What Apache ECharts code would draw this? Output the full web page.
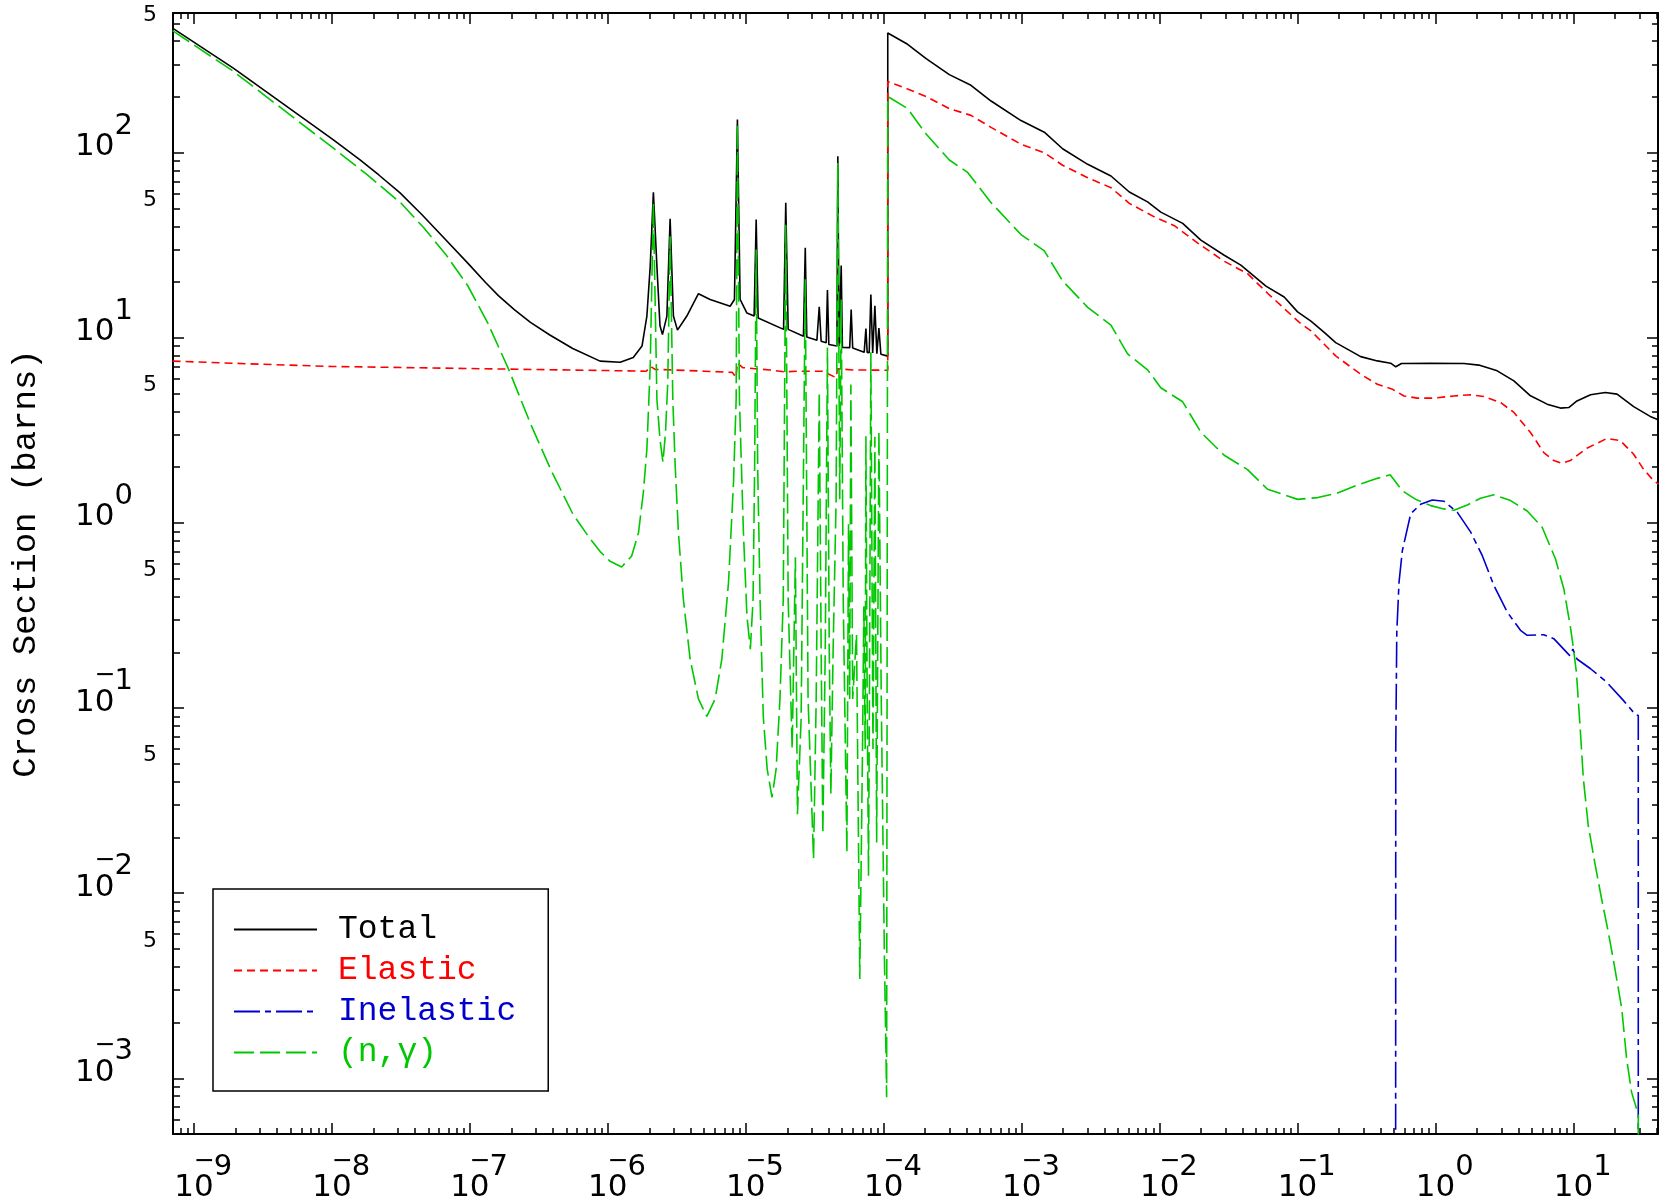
<!DOCTYPE html>
<html>
<head>
<meta charset="utf-8">
<script src="https://cdn.jsdelivr.net/npm/echarts@6/dist/echarts.min.js"></script>
<style>
html,body{margin:0;padding:0;background:#fff;}
#chart{width:1663px;height:1199px;}
</style>
</head>
<body>
<div id="chart"></div>
<script>
// ---------------- data (energy in MeV, cross section in barns) ----------------
const xLimits = [7.05e-10, 41];
const yLimits = [5e-4, 568];
const xDecadeExponents = [-9, -8, -7, -6, -5, -4, -3, -2, -1, 0, 1];
const yDecadeExponents = [-3, -2, -1, 0, 1, 2];
const yFiveLabelValues = [5e-3, 5e-2, 0.5, 5, 50, 500];
const seriesNames = ['Total', 'Elastic', 'Inelastic', '(n,\u03b3)'];

const totalE = [7.0e-10, 1.93e-9, 1.02e-8, 1.6e-8, 2.2e-8, 3.12e-8, 4.5e-8, 6.5e-8, 9.66e-8, 1.3e-7,
  1.61e-7, 2.1e-7, 2.75e-7, 3.8e-7, 5.57e-7, 8.79e-7, 1.23e-6,
  1.53e-6, 1.77e-6, 1.92e-6, 2.03e-6, 2.14e-6, 2.27e-6, 2.39e-6, 2.49e-6, 2.68e-6, 2.83e-6,
  2.99e-6, 3.20e-6, 3.74e-6, 4.54e-6, 5.52e-6, 7.71e-6, 8.28e-6, 8.70e-6, 9.10e-6, 1.02e-5,
  1.15e-5, 1.19e-5, 1.23e-5, 1.88e-5, 1.95e-5, 2.03e-5, 2.62e-5, 2.70e-5, 2.77e-5, 3.28e-5,
  3.41e-5, 3.52e-5, 3.83e-5, 3.91e-5, 4.00e-5, 4.58e-5, 4.65e-5, 4.75e-5, 4.92e-5, 5.02e-5,
  5.67e-5, 5.81e-5, 5.96e-5, 7.22e-5, 7.43e-5, 7.59e-5, 7.85e-5, 8.07e-5, 8.32e-5, 8.63e-5,
  8.92e-5, 9.23e-5, 9.54e-5, 1.07e-4, 1.07e-4, 1.49e-4, 2.03e-4, 2.99e-4, 4.29e-4, 6.0e-4,
  9.89e-4, 1.46e-3, 1.98e-3, 3.01e-3, 4.44e-3, 6.03e-3, 8.18e-3, 1.02e-2, 1.47e-2, 1.99e-2,
  2.94e-2, 3.88e-2, 5.9e-2, 8.0e-2, 0.1, 0.125, 0.156, 0.189, 0.287, 0.379,
  0.473, 0.515, 0.566, 0.923, 1.61, 2.06, 2.80, 3.70, 4.88, 6.44,
  8.04, 9.24, 10.6, 13.3, 17.0, 20.7, 27.3, 36.0, 41.5];
const totalS = [471, 286, 117.5, 91.4, 75.5, 60.6, 46.2, 34.6, 25.3, 19.9,
  16.9, 14.2, 12.1, 10.35, 8.75, 7.48, 7.38,
  7.83, 9.02, 13.1, 24.3, 61.1, 24.3, 11.6, 10.4, 13.1, 43.9,
  13.1, 11.0, 13.1, 17.3, 16.1, 14.8, 16.1, 151, 16.1, 13.6,
  13.1, 43.5, 12.8, 11.1, 53.6, 11.1, 10.2, 30.6, 10.1, 9.71,
  14.7, 9.59, 9.40, 18.1, 9.20, 9.02, 95.5, 9.02, 24.6, 8.87,
  8.85, 14.2, 8.80, 8.34, 11.2, 8.34, 8.30, 17.1, 8.27, 14.9,
  8.20, 11.3, 8.15, 7.96, 443, 385, 322, 264, 231, 190,
  149, 129, 105, 86.5, 74.8, 61.3, 54.2, 47.7, 41.5, 33.7,
  27.9, 24.7, 19.0, 16.6, 13.8, 12.3, 10.7, 9.42, 7.91, 7.50,
  7.29, 6.97, 7.26, 7.29, 7.26, 7.12, 6.63, 5.85, 4.86, 4.38,
  4.17, 4.20, 4.56, 4.92, 5.06, 4.96, 4.25, 3.76, 3.6];

const elasticE = [7.0e-10, 3e-9, 1e-8, 1e-7, 1e-6, 1.9e-6, 2.05e-6, 2.2e-6, 3e-6, 5e-6,
  8.0e-6, 8.5e-6, 8.7e-6, 9.5e-6, 1.5e-5, 1.9e-5, 2.5e-5, 3.6e-5, 4.5e-5, 4.65e-5,
  6e-5, 1.07e-4, 1.07e-4, 1.49e-4, 2.03e-4, 2.99e-4, 4.29e-4, 6.0e-4, 9.89e-4, 1.46e-3,
  1.98e-3, 3.01e-3, 4.44e-3, 6.03e-3, 9.15e-3, 1.28e-2, 1.99e-2, 2.94e-2, 4.34e-2, 6.06e-2,
  0.103, 0.125, 0.156, 0.189, 0.287, 0.379, 0.487, 0.591, 0.738, 0.975,
  1.36, 1.80, 2.24, 2.96, 3.70, 4.88, 6.09, 7.20, 8.27, 9.50,
  12.5, 17.5, 21.9, 27.3, 32.2, 38.1, 41.5];
const elasticS = [7.48, 7.2, 7.0, 6.82, 6.65, 6.6, 7.0, 6.75, 6.7, 6.6,
  6.5, 6.1, 7.3, 6.9, 6.7, 6.55, 6.6, 6.6, 6.1, 6.8,
  6.7, 6.68, 242, 221, 201, 173, 159, 137, 111, 99.8,
  85.5, 73.2, 64.7, 53.2, 45.0, 40.3, 31.6, 25.9, 22.2, 17.4,
  12.1, 10.9, 9.23, 7.98, 6.35, 5.61, 5.27, 4.85, 4.72, 4.72,
  4.85, 4.92, 4.82, 4.47, 3.95, 3.08, 2.40, 2.17, 2.10, 2.17,
  2.53, 2.86, 2.78, 2.35, 1.95, 1.69, 1.62];

const inelasticE = [0.513, 0.515, 0.524, 0.544, 0.575, 0.661, 0.780, 0.948, 1.15, 1.44,
  1.80, 2.18, 2.65, 3.31, 4.13, 4.62, 6.09, 7.20, 9.40, 9.90,
  10.6, 13.3, 17.4, 23.0, 28.1, 29.5, 29.5];
const inelasticS = [1e-6, 0.0605, 0.257, 0.479, 0.709, 1.12, 1.26, 1.33, 1.31, 1.14,
  0.891, 0.667, 0.459, 0.330, 0.263, 0.247, 0.249, 0.237, 0.192, 0.208,
  0.184, 0.163, 0.138, 0.110, 0.0922, 0.091, 1e-6];

const captureE = [7.0e-10, 1.93e-9, 1.02e-8, 1.8e-8, 3.2e-8, 4.6e-8, 6.67e-8, 9.66e-8, 1.35e-7, 1.93e-7, 2.75e-7, 3.91e-7,
  5.57e-7, 7.27e-7, 8.8e-7, 1.04e-6, 1.26e-6, 1.49e-6, 1.67e-6, 1.81e-6, 1.92e-6, 2.03e-6,
  2.14e-6, 2.27e-6, 2.39e-6, 2.51e-6, 2.62e-6, 2.72e-6, 2.83e-6, 2.96e-6, 3.08e-6, 3.25e-6,
  3.53e-6, 3.95e-6, 4.54e-6, 5.22e-6, 6.0e-6, 6.71e-6, 7.5e-6, 8.15e-6, 8.52e-6, 8.7e-6,
  9.0e-6, 9.62e-6, 1.02e-5, 1.08e-5, 1.13e-5, 1.16e-5, 1.19e-5, 1.22e-5, 1.27e-5, 1.34e-5,
  1.43e-5, 1.55e-5, 1.66e-5, 1.77e-5, 1.87e-5, 1.95e-5, 2.03e-5, 2.17e-5, 2.29e-5, 2.37e-5,
  2.52e-5, 2.70e-5, 2.83e-5, 3.10e-5, 3.24e-5, 3.41e-5, 3.52e-5, 3.62e-5, 3.77e-5, 3.91e-5,
  4.03e-5, 4.14e-5, 4.30e-5, 4.52e-5, 4.65e-5, 4.80e-5, 4.92e-5, 5.09e-5, 5.41e-5, 5.56e-5,
  5.67e-5, 5.78e-5, 5.96e-5, 6.35e-5, 6.71e-5, 7.02e-5, 7.18e-5, 7.34e-5, 7.43e-5, 7.59e-5,
  7.76e-5, 7.88e-5, 8.07e-5, 8.36e-5, 8.63e-5, 8.89e-5, 9.23e-5, 9.6e-5, 1.01e-4, 1.05e-4,
  1.07e-4, 1.49e-4, 2.03e-4, 2.99e-4, 4.06e-4, 6.0e-4, 9.89e-4, 1.46e-3, 1.98e-3, 3.01e-3,
  4.44e-3, 5.86e-3, 8.18e-3, 1.02e-2, 1.47e-2, 1.99e-2, 2.94e-2, 4.34e-2, 6.06e-2, 0.1,
  0.140, 0.195, 0.272, 0.379, 0.469, 0.575, 0.718, 0.922, 1.15, 1.36,
  1.70, 2.12, 2.65, 3.50, 4.62, 5.93, 7.40, 8.51, 9.50, 10.0,
  10.5, 11.1, 11.8, 12.8, 14.4, 16.0, 17.9, 20.0, 22.4, 24.3,
  26.4, 28.7, 29.5, 29.5];
const captureS = [456, 275, 106, 76, 53, 39.5, 28.3, 19.1, 12.0, 6.64, 3.44, 1.90,
  1.12, 0.84, 0.70, 0.62, 0.578, 0.663, 0.887, 1.46, 2.50, 7.03,
  53.5, 4.64, 2.82, 2.13, 3.07, 5.71, 35.3, 4.64, 2.03, 0.887,
  0.387, 0.184, 0.112, 0.0901, 0.112, 0.184, 0.477, 1.65, 4.64, 142,
  4.64, 0.887, 0.315, 0.208, 0.387, 2.03, 30.0, 2.03, 0.387, 0.0901,
  0.0468, 0.0329, 0.0468, 0.112, 0.387, 40.8, 0.387, 0.060, 0.652, 0.0267,
  0.0871, 20.7, 0.112, 0.0153, 0.112, 5.07, 0.208, 0.0209, 0.208, 8.87,
  0.208, 0.0343, 0.208, 1.34, 88.0, 1.34, 16.1, 0.387, 0.0166, 0.983,
  0.112, 5.60, 0.112, 0.25, 3.44e-3, 0.060, 0.355, 0.060, 2.94, 0.112,
  0.0124, 0.112, 8.34, 0.060, 2.92, 0.0188, 3.13, 0.112, 5.0e-3, 7.9e-4,
  201, 173, 126, 91.3, 78.2, 53.7, 36.1, 29.5, 20.3, 14.6,
  11.7, 8.19, 6.71, 5.37, 4.51, 3.09, 2.32, 1.94, 1.52, 1.34,
  1.37, 1.45, 1.60, 1.74, 1.82, 1.49, 1.34, 1.24, 1.19, 1.17,
  1.25, 1.36, 1.42, 1.32, 1.16, 0.948, 0.640, 0.441, 0.274, 0.21,
  0.156, 0.085, 0.0414, 0.0232, 0.0141, 9.3e-3, 6.14e-3, 3.89e-3, 2.37e-3, 1.27e-3,
  8.39e-4, 6.82e-4, 6.54e-4, 1e-6];

// ---------------- chart construction ----------------
const L10 = Math.log10;
const lx = [L10(xLimits[0]), L10(xLimits[1])];
const ly = [L10(yLimits[0]), L10(yLimits[1])];
const toLog = (E, S) => E.map((e, i) => [L10(e), L10(S[i])]);

function minorTicks(range) {
  const out = [];
  for (let k = Math.floor(range[0]) - 1; k <= Math.ceil(range[1]); k++) {
    for (let m = 2; m <= 9; m++) {
      const v = k + L10(m);
      if (v > range[0] && v < range[1]) out.push(v);
    }
  }
  return out;
}
const xMinor = minorTicks(lx);
const yMinor = minorTicks(ly);

const NUMFONT = 'DejaVu Sans';
const MONO = 'Liberation Mono';
function richSet(pd, pe, pm) {
  return {
    d: {fontFamily: NUMFONT, fontSize: 31, color: '#000', lineHeight: 60, verticalAlign: 'bottom', align: 'left', padding: [0, 0, pd, 0]},
    e: {fontFamily: NUMFONT, fontSize: 29, color: '#000', lineHeight: 60, verticalAlign: 'bottom', align: 'left', padding: [0, 0, pe, 0]},
    m: {fontFamily: NUMFONT, fontSize: 25, color: '#000', lineHeight: 60, verticalAlign: 'bottom', align: 'left', width: 0.001, padding: [0, 0, pm, 0]},
    sp: {fontFamily: NUMFONT, fontSize: 29, lineHeight: 60, verticalAlign: 'bottom', align: 'left', width: 18.5}
  };
}
function powLabel(v, lead) {
  const k = Math.round(v);
  const minus = k < 0 ? '{m|\u2212}' : '';
  return (lead ? '{sp| }' : '') + '{d|1}' + minus + '{d|0}{e|' + Math.abs(k) + '}';
}

const axisLine = {show: true, onZero: false, lineStyle: {color: '#000', width: 2}};
const noLine = {show: false, onZero: false};
function tick(vals, len) {
  return {show: true, inside: true, length: len, customValues: vals, lineStyle: {color: '#000', width: 1.5}};
}

const xAxes = [
  {type: 'value', position: 'bottom', min: lx[0], max: lx[1], splitLine: {show: false}, axisLine: axisLine,
   axisTick: tick(xDecadeExponents, 11),
   axisLabel: {show: true, customValues: xDecadeExponents, margin: 17, hideOverlap: false,
     formatter: v => powLabel(v, true), rich: richSet(8, 29, 37)}},
  {type: 'value', position: 'bottom', min: lx[0], max: lx[1], splitLine: {show: false}, axisLine: noLine,
   axisTick: tick(xMinor, 6), axisLabel: {show: false}},
  {type: 'value', position: 'top', min: lx[0], max: lx[1], splitLine: {show: false}, axisLine: axisLine,
   axisTick: tick(xDecadeExponents, 11), axisLabel: {show: false}},
  {type: 'value', position: 'top', min: lx[0], max: lx[1], splitLine: {show: false}, axisLine: noLine,
   axisTick: tick(xMinor, 6), axisLabel: {show: false}}
];
const yAxes = [
  {type: 'value', position: 'left', min: ly[0], max: ly[1], splitLine: {show: false}, axisLine: axisLine,
   axisTick: tick(yDecadeExponents, 11),
   axisLabel: {show: true, customValues: yDecadeExponents, margin: 40, hideOverlap: false,
     formatter: v => powLabel(v, false), rich: richSet(20, 42, 50)},
   name: 'Cross Section (barns)', nameLocation: 'middle', nameGap: 130,
   nameTextStyle: {fontFamily: MONO, fontSize: 34, color: '#000', padding: [0, 0, 0, 20]}},
  {type: 'value', position: 'left', min: ly[0], max: ly[1], splitLine: {show: false}, axisLine: noLine,
   axisTick: tick(yMinor, 7),
   axisLabel: {show: true, customValues: yFiveLabelValues.map(L10), margin: 16, hideOverlap: false,
     formatter: () => '5', fontFamily: NUMFONT, fontSize: 22, lineHeight: 16, verticalAlign: 'bottom', color: '#000'}},
  {type: 'value', position: 'right', min: ly[0], max: ly[1], splitLine: {show: false}, axisLine: axisLine,
   axisTick: tick(yDecadeExponents, 11), axisLabel: {show: false}},
  {type: 'value', position: 'right', min: ly[0], max: ly[1], splitLine: {show: false}, axisLine: noLine,
   axisTick: tick(yMinor, 6), axisLabel: {show: false}}
];

function lineSeries(name, E, S, color, type, z) {
  return {
    type: 'line', name: name, xAxisIndex: 0, yAxisIndex: 0, data: toLog(E, S),
    symbol: 'none', showSymbol: false, clip: true, animation: false, z: z,
    lineStyle: {color: color, width: 1.6, type: type}, itemStyle: {color: color}
  };
}
const colors = ['#000000', '#ff0000', '#0000cd', '#00c800'];

const option = {
  backgroundColor: '#ffffff',
  animation: false,
  grid: {left: 173, right: 5, top: 13, bottom: 65, containLabel: false, outerBoundsMode: 'none'},
  xAxis: xAxes,
  yAxis: yAxes,
  legend: {
    show: true, orient: 'vertical', left: 213, top: 889, selectedMode: false,
    padding: [24, 32, 22, 20], itemWidth: 83, itemHeight: 14, itemGap: 8,
    borderColor: '#000', borderWidth: 1.5, backgroundColor: '#fff',
    itemStyle: {color: 'rgba(0,0,0,0)', borderWidth: 0, opacity: 0},
    textStyle: {fontFamily: MONO, fontSize: 33, lineHeight: 33, padding: [0, 0, 0, 16]},
    data: seriesNames.map((n, i) => ({name: n, textStyle: {color: colors[i]}}))
  },
  series: [
    lineSeries(seriesNames[0], totalE, totalS, colors[0], 'solid', 2),
    lineSeries(seriesNames[1], elasticE, elasticS, colors[1], [8, 5], 3),
    lineSeries(seriesNames[2], inelasticE, inelasticS, colors[2], [26, 5, 6, 5], 4),
    lineSeries(seriesNames[3], captureE, captureS, colors[3], [20, 6], 5)
  ]
};
const chart = echarts.init(document.getElementById('chart'), null, {renderer: 'canvas'});
chart.setOption(option);
</script>
</body>
</html>
